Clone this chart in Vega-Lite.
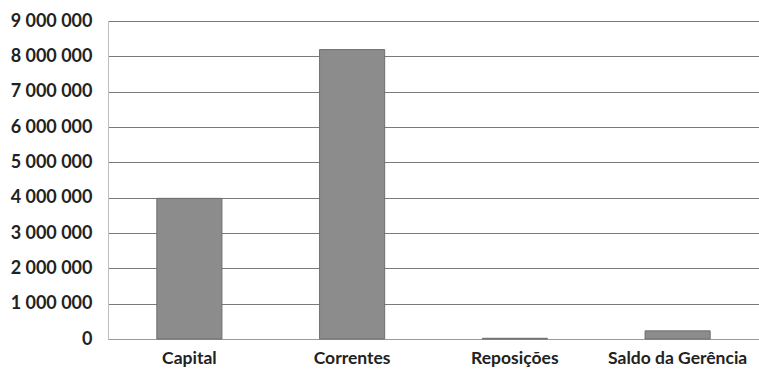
{
  "$schema": "https://vega.github.io/schema/vega-lite/v6.json",
  "width": 651,
  "height": 318,
  "autosize": {"type": "none"},
  "padding": {"left": 108, "top": 21, "right": 0, "bottom": 32},
  "background": "white",
  "data": {"values": [
    {"categoria": "Capital", "valor": 3980000},
    {"categoria": "Correntes", "valor": 8190000},
    {"categoria": "Reposições", "valor": 20000},
    {"categoria": "Saldo da Gerência", "valor": 230000}
  ]},
  "mark": {"type": "bar", "color": "#8c8c8c", "stroke": "#6e6e6e", "strokeWidth": 1},
  "encoding": {
    "x": {"field": "categoria", "type": "nominal", "sort": null,
      "scale": {"paddingInner": 0.6, "paddingOuter": 0.3},
      "axis": {"title": null, "labelAngle": 0, "ticks": false, "domain": true, "domainColor": "#9a9a9a",
        "labelFont": "Lato", "labelFontWeight": "bold", "labelFontSize": 17.5, "labelColor": "#222", "labelPadding": 10, "labelOverlap": false}},
    "y": {"field": "valor", "type": "quantitative",
      "scale": {"domain": [0, 9000000], "nice": false},
      "axis": {"title": null, "values": [0,1000000,2000000,3000000,4000000,5000000,6000000,7000000,8000000,9000000],
        "labelExpr": "replace(format(datum.value, ','), /,/g, ' ')", "labelOverlap": false,
        "ticks": false, "domain": true, "domainColor": "#bdbdbd", "grid": true, "gridColor": "#7a7a7a", "gridWidth": 1,
        "labelFont": "Lato", "labelFontWeight": "bold", "labelFontSize": 18, "labelColor": "#222", "labelPadding": 16}}
  },
  "config": {"view": {"stroke": null}}
}
